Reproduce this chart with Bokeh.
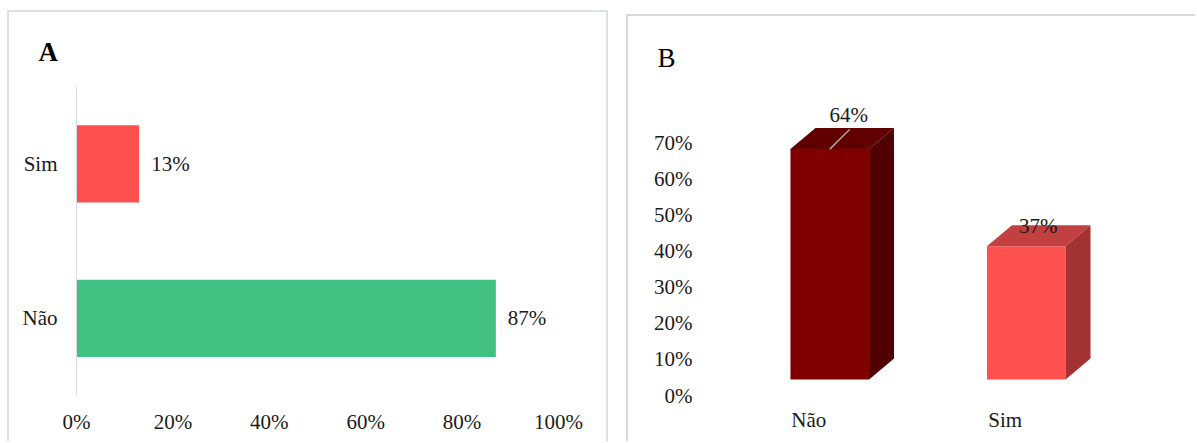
from bokeh.plotting import figure
from bokeh.models import Range1d, FactorRange, FixedTicker, NumeralTickFormatter, Title
from bokeh.layouts import row
from bokeh.embed import file_html
from bokeh.resources import INLINE
from bokeh.core.properties import value

# ---- Panel A: horizontal bars ----
a_categories = ["Não", "Sim"]
a_values = [0.87, 0.13]
a_colors = ["#41C181", "#FF5050"]
a_ticks = [0.0, 0.2, 0.4, 0.6, 0.8, 1.0]

# ---- Panel B: 3D-style columns ----
b_categories = ["Não", "Sim"]
b_values = [0.64, 0.37]
b_front = ["#800000", "#FF5050"]
b_top = ["#600000", "#C24040"]
b_side = ["#500000", "#A33333"]
b_ticks = [0.0, 0.1, 0.2, 0.3, 0.4, 0.5, 0.6, 0.7]

FONT = "Liberation Serif"
TXT = "#1A1A1A"
FS = "21px"


def pct(v):
    return f"{round(v * 100)}%"


def style_axis(ax, standoff):
    ax.major_tick_line_color = None
    ax.minor_tick_line_color = None
    ax.major_tick_out = 0
    ax.major_tick_in = 0
    ax.major_label_standoff = standoff
    ax.major_label_text_font = FONT
    ax.major_label_text_font_size = FS
    ax.major_label_text_color = TXT


def panel_title(text, offset, standoff, bold):
    return Title(text=text, align="left", offset=offset, standoff=standoff,
                 text_font=FONT, text_font_size="27px",
                 text_font_style="bold" if bold else "normal",
                 text_color="#000000")


# shared top/bottom borders keep the two frames level
TOP, BOTTOM = 74, 48

# ---------------- Panel A ----------------
WA, HA = 601, 431
pA = figure(width=WA, height=HA, x_range=Range1d(0, 1),
            y_range=FactorRange(*a_categories),
            output_backend="svg", toolbar_location=None,
            min_border_left=67, min_border_right=52,
            min_border_top=TOP, min_border_bottom=BOTTOM)
pA.margin = (10, 0, 0, 7)
pA.styles = {"border-top": "2px solid #DCE1E8", "border-left": "2px solid #DCE1E8",
             "border-right": "2px solid #DCE1E8"}
pA.outline_line_color = None
pA.xgrid.grid_line_color = None
pA.ygrid.grid_line_color = None

pA.hbar(y=a_categories, left=0, right=a_values, height=0.5,
        fill_color=a_colors, line_color=None)
pA.text(x=a_values, y=a_categories, text=[pct(v) for v in a_values],
        x_offset=12, text_align="left", text_baseline="middle",
        text_font=value(FONT), text_font_size=FS, text_color=TXT)

pA.xaxis.ticker = FixedTicker(ticks=a_ticks)
pA.xaxis.formatter = NumeralTickFormatter(format="0%")
pA.xaxis.axis_line_color = None
style_axis(pA.xaxis[0], 14)
pA.yaxis.axis_line_color = "#D5DBE4"
pA.yaxis.axis_line_width = 1
style_axis(pA.yaxis[0], 19)
pA.add_layout(panel_title("A", -38, 39, True), "above")

# ---------------- Panel B ----------------
WB, HB = 569, 427
pB = figure(width=WB, height=HB, x_range=Range1d(0, 2), y_range=Range1d(0, 0.8472),
            output_backend="svg", toolbar_location=None,
            min_border_left=82, min_border_right=94,
            min_border_top=TOP, min_border_bottom=BOTTOM)
pB.margin = (14, 0, 0, 18)
pB.styles = {"border-top": "2px solid #D9D9D9", "border-left": "2px solid #D9D9D9"}
pB.outline_line_color = None
pB.xgrid.grid_line_color = None
pB.ygrid.grid_line_color = None

# geometry of the pseudo-3D boxes (in axis units)
shift, bw = 0.107, 0.40          # front face offset from category centre, width
dx, dy = 0.127, 0.0583           # depth of the box
base = 0.0444                    # floor lift of the front face

centers = [i + 0.5 for i in range(len(b_categories))]
fx = [c + shift for c in centers]
lefts = [x - bw / 2 for x in fx]
rights = [x + bw / 2 for x in fx]
tops = [base + v for v in b_values]

pB.quad(left=lefts, right=rights, bottom=base, top=tops,
        fill_color=b_front, line_color=None)
pB.patches(xs=[[l, r, r + dx, l + dx] for l, r in zip(lefts, rights)],
           ys=[[t, t, t + dy, t + dy] for t in tops],
           fill_color=b_top, line_color=None)
pB.patches(xs=[[r, r + dx, r + dx, r] for r in rights],
           ys=[[base, base + dy, t + dy, t] for t in tops],
           fill_color=b_side, line_color=None)

# value labels; the first one is lifted off its box with a leader line
lab_dx_px = [19, 12]
lab_dy_px = [-13, 1]
lead = [i for i, d in enumerate(lab_dy_px) if d < 0]
pB.segment(x0=[fx[i] for i in lead], y0=[tops[i] for i in lead],
           x1=[fx[i] + 0.102 for i in lead], y1=[tops[i] + dy * 0.95 for i in lead],
           line_color="#A6A6A6", line_width=1.5)
pB.text(x=fx, y=[t + dy for t in tops], text=[pct(v) for v in b_values],
        x_offset=lab_dx_px, y_offset=lab_dy_px,
        text_align="center", text_baseline="middle",
        text_font=value(FONT), text_font_size=FS, text_color=TXT)

pB.xaxis.ticker = FixedTicker(ticks=centers)
pB.xaxis.major_label_overrides = {c: n for c, n in zip(centers, b_categories)}
pB.xaxis.axis_line_color = None
style_axis(pB.xaxis[0], 12)
pB.yaxis.ticker = FixedTicker(ticks=b_ticks)
pB.yaxis.formatter = NumeralTickFormatter(format="0%")
pB.yaxis.axis_line_color = None
style_axis(pB.yaxis[0], 18)
pB.add_layout(panel_title("B", -53, 35, False), "above")

layout = row(pA, pB)
open("out.html", "w").write(file_html(layout, INLINE))
